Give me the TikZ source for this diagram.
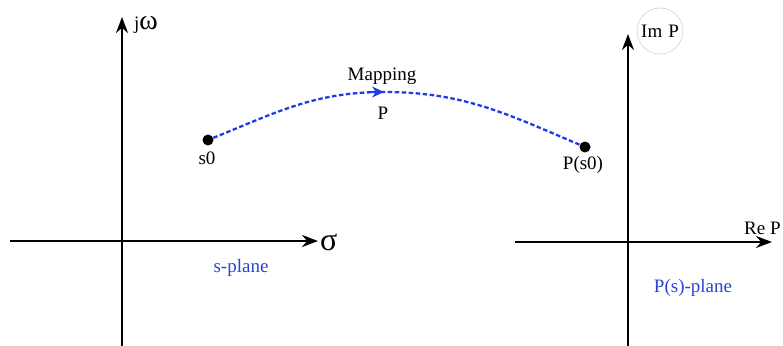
\documentclass[tikz,border=0pt]{standalone}
\usepackage{fontspec}
\setmainfont{Liberation Serif}
\usetikzlibrary{arrows.meta}
\definecolor{mapblue}{RGB}{30,60,230}
\definecolor{lblblue}{RGB}{40,70,210}
\begin{document}
\begin{tikzpicture}[x=1pt,y=-1pt,
  axis/.style={line width=2.2pt,-{Stealth[length=16pt,width=12pt]}},
  dot/.style={circle,fill=black,inner sep=0pt,minimum size=11pt},
  lbl/.style={font=\fontsize{19}{21}\selectfont,inner sep=0pt},
  plane/.style={lbl,text=lblblue},
  mapline/.style={mapblue,line width=2.3pt,dash pattern=on 4.5pt off 2.5pt}]
\useasboundingbox (0,0) rectangle (783,345);
\clip (0,0) rectangle (783,345);
% left axes
\coordinate (lvb) at (122,350);
\coordinate (lvt) at (122,17);
\coordinate (lhl) at (10,241);
\coordinate (lhr) at (318,241);
\draw[axis] (lvb) -- (lvt);
\draw[axis] (lhl) -- (lhr);
\node[lbl,anchor=west] (jw) at (134,25) {j\fontsize{28}{28}\selectfont ω};
\node[lbl,anchor=west,font=\fontsize{32}{32}\selectfont] (sigma) at (320,242) {σ};
\node[plane] (splane) at (241,268) {s-plane};
% right axes
\coordinate (rvb) at (628,350);
\coordinate (rvt) at (628,34);
\coordinate (rhl) at (515,242);
\coordinate (rhr) at (772,242);
\draw[axis] (rvb) -- (rvt);
\draw[axis] (rhl) -- (rhr);
\node[circle,draw=black!18,line width=0.6pt,minimum size=46pt,inner sep=0pt] (imc) at (660,31) {};
\node[lbl] (imp) at (660,31) {Im\hspace{6pt}P};
\node[lbl,anchor=east] (rep) at (781,228) {Re\hspace{5pt}P};
\node[plane] (psplane) at (693,288) {P(s)-plane};
% mapping
\node[dot] (s0) at (208,140) {};
\node[lbl] (s0l) at (207,158) {s0};
\node[dot] (ps0) at (585,147) {};
\node[lbl] (ps0l) at (583,165) {P(s0)};
\coordinate (mid) at (384,92);
\draw[mapline] (s0) to[out=22,in=180] (mid) to[out=0,in=157] (ps0);
\draw[mapblue,line width=2pt,-{Stealth[length=12pt,width=11pt]}] (370,92) -- (mid);
\node[lbl] (mapping) at (382,76) {Mapping};
\node[lbl] (pl) at (383,113) {P};
\end{tikzpicture}
\end{document}
